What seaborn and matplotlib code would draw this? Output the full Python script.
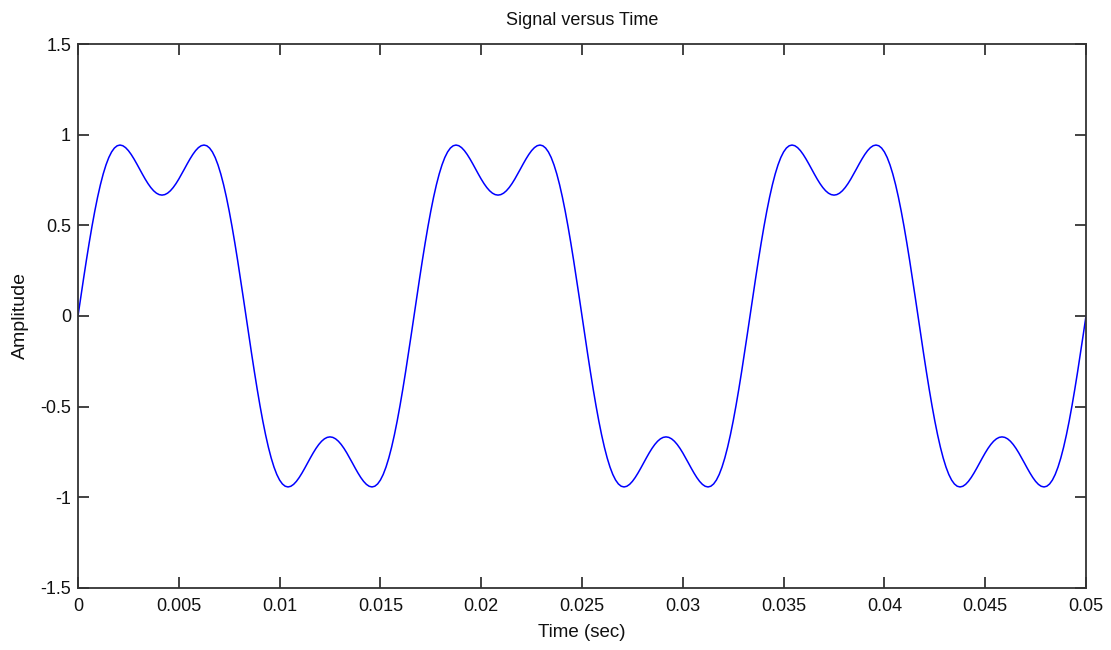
import numpy as np
import pandas as pd
import matplotlib
matplotlib.use("Agg")
import matplotlib.pyplot as plt
import seaborn as sns

# Signal amplitude samples (sample rate 7200 Hz, 0 .. 0.05 s)
sample_rate = 7200
amplitude = [
    # cycle 1
    0.0, 0.1045, 0.2075, 0.3078, 0.4038, 0.4945, 0.5787, 0.6554, 0.7238, 0.7832,
    0.8333, 0.8739, 0.9048, 0.9263, 0.9388, 0.9428, 0.9391, 0.9285, 0.9120, 0.8908,
    0.8660, 0.8389, 0.8105, 0.7823, 0.7551, 0.7302, 0.7085, 0.6907, 0.6775, 0.6694,
    0.6667, 0.6694, 0.6775, 0.6907, 0.7085, 0.7302, 0.7551, 0.7823, 0.8105, 0.8389,
    0.8660, 0.8908, 0.9120, 0.9285, 0.9391, 0.9428, 0.9388, 0.9263, 0.9048, 0.8739,
    0.8333, 0.7832, 0.7238, 0.6554, 0.5787, 0.4945, 0.4038, 0.3078, 0.2075, 0.1045,
    0.0, -0.1045, -0.2075, -0.3078, -0.4038, -0.4945, -0.5787, -0.6554, -0.7238, -0.7832,
    -0.8333, -0.8739, -0.9048, -0.9263, -0.9388, -0.9428, -0.9391, -0.9285, -0.9120, -0.8908,
    -0.8660, -0.8389, -0.8105, -0.7823, -0.7551, -0.7302, -0.7085, -0.6907, -0.6775, -0.6694,
    -0.6667, -0.6694, -0.6775, -0.6907, -0.7085, -0.7302, -0.7551, -0.7823, -0.8105, -0.8389,
    -0.8660, -0.8908, -0.9120, -0.9285, -0.9391, -0.9428, -0.9388, -0.9263, -0.9048, -0.8739,
    -0.8333, -0.7832, -0.7238, -0.6554, -0.5787, -0.4945, -0.4038, -0.3078, -0.2075, -0.1045,
    # cycle 2
    0.0, 0.1045, 0.2075, 0.3078, 0.4038, 0.4945, 0.5787, 0.6554, 0.7238, 0.7832,
    0.8333, 0.8739, 0.9048, 0.9263, 0.9388, 0.9428, 0.9391, 0.9285, 0.9120, 0.8908,
    0.8660, 0.8389, 0.8105, 0.7823, 0.7551, 0.7302, 0.7085, 0.6907, 0.6775, 0.6694,
    0.6667, 0.6694, 0.6775, 0.6907, 0.7085, 0.7302, 0.7551, 0.7823, 0.8105, 0.8389,
    0.8660, 0.8908, 0.9120, 0.9285, 0.9391, 0.9428, 0.9388, 0.9263, 0.9048, 0.8739,
    0.8333, 0.7832, 0.7238, 0.6554, 0.5787, 0.4945, 0.4038, 0.3078, 0.2075, 0.1045,
    0.0, -0.1045, -0.2075, -0.3078, -0.4038, -0.4945, -0.5787, -0.6554, -0.7238, -0.7832,
    -0.8333, -0.8739, -0.9048, -0.9263, -0.9388, -0.9428, -0.9391, -0.9285, -0.9120, -0.8908,
    -0.8660, -0.8389, -0.8105, -0.7823, -0.7551, -0.7302, -0.7085, -0.6907, -0.6775, -0.6694,
    -0.6667, -0.6694, -0.6775, -0.6907, -0.7085, -0.7302, -0.7551, -0.7823, -0.8105, -0.8389,
    -0.8660, -0.8908, -0.9120, -0.9285, -0.9391, -0.9428, -0.9388, -0.9263, -0.9048, -0.8739,
    -0.8333, -0.7832, -0.7238, -0.6554, -0.5787, -0.4945, -0.4038, -0.3078, -0.2075, -0.1045,
    # cycle 3
    0.0, 0.1045, 0.2075, 0.3078, 0.4038, 0.4945, 0.5787, 0.6554, 0.7238, 0.7832,
    0.8333, 0.8739, 0.9048, 0.9263, 0.9388, 0.9428, 0.9391, 0.9285, 0.9120, 0.8908,
    0.8660, 0.8389, 0.8105, 0.7823, 0.7551, 0.7302, 0.7085, 0.6907, 0.6775, 0.6694,
    0.6667, 0.6694, 0.6775, 0.6907, 0.7085, 0.7302, 0.7551, 0.7823, 0.8105, 0.8389,
    0.8660, 0.8908, 0.9120, 0.9285, 0.9391, 0.9428, 0.9388, 0.9263, 0.9048, 0.8739,
    0.8333, 0.7832, 0.7238, 0.6554, 0.5787, 0.4945, 0.4038, 0.3078, 0.2075, 0.1045,
    0.0, -0.1045, -0.2075, -0.3078, -0.4038, -0.4945, -0.5787, -0.6554, -0.7238, -0.7832,
    -0.8333, -0.8739, -0.9048, -0.9263, -0.9388, -0.9428, -0.9391, -0.9285, -0.9120, -0.8908,
    -0.8660, -0.8389, -0.8105, -0.7823, -0.7551, -0.7302, -0.7085, -0.6907, -0.6775, -0.6694,
    -0.6667, -0.6694, -0.6775, -0.6907, -0.7085, -0.7302, -0.7551, -0.7823, -0.8105, -0.8389,
    -0.8660, -0.8908, -0.9120, -0.9285, -0.9391, -0.9428, -0.9388, -0.9263, -0.9048, -0.8739,
    -0.8333, -0.7832, -0.7238, -0.6554, -0.5787, -0.4945, -0.4038, -0.3078, -0.2075, -0.1045,
    0.0,
]
time = np.arange(len(amplitude)) / sample_rate

x_ticks = [0, 0.005, 0.01, 0.015, 0.02, 0.025, 0.03, 0.035, 0.04, 0.045, 0.05]
x_tick_labels = ["0", "0.005", "0.01", "0.015", "0.02", "0.025", "0.03", "0.035", "0.04", "0.045", "0.05"]
y_ticks = [-1.5, -1, -0.5, 0, 0.5, 1, 1.5]
y_tick_labels = ["-1.5", "-1", "-0.5", "0", "0.5", "1", "1.5"]

title = "Signal versus Time"
x_label = "Time (sec)"
y_label = "Amplitude"

sns.set_style("white")
plt.rcParams["font.family"] = ["Liberation Sans", "DejaVu Sans"]

fig = plt.figure(figsize=(11.11, 6.5), dpi=100)
ax = fig.add_axes([0.0702, 0.0954, 0.9073, 0.8369])

df = pd.DataFrame({"Time": time, "Amplitude": amplitude})
sns.lineplot(data=df, x="Time", y="Amplitude", ax=ax, color="#0000FF", linewidth=1.1)

ax.set_xlim(0, 0.05)
ax.set_ylim(-1.5, 1.5)
ax.set_xticks(x_ticks)
ax.set_xticklabels(x_tick_labels)
ax.set_yticks(y_ticks)
ax.set_yticklabels(y_tick_labels)

ax.tick_params(direction="in", top=True, right=True, bottom=True, left=True,
               length=8, width=1.2, color="#222222", labelsize=13,
               labelcolor="#111111")
ax.tick_params(axis="x", pad=7)
ax.tick_params(axis="y", pad=5)
for s in ax.spines.values():
    s.set_color("#333333")
    s.set_linewidth(1.3)

ax.set_title(title, fontsize=13, color="#111111", pad=14)
ax.set_xlabel(x_label, fontsize=13.5, color="#111111", labelpad=7)
ax.set_ylabel(y_label, fontsize=14, color="#111111", labelpad=8)

fig.savefig("out.png", dpi=100, facecolor="white")
